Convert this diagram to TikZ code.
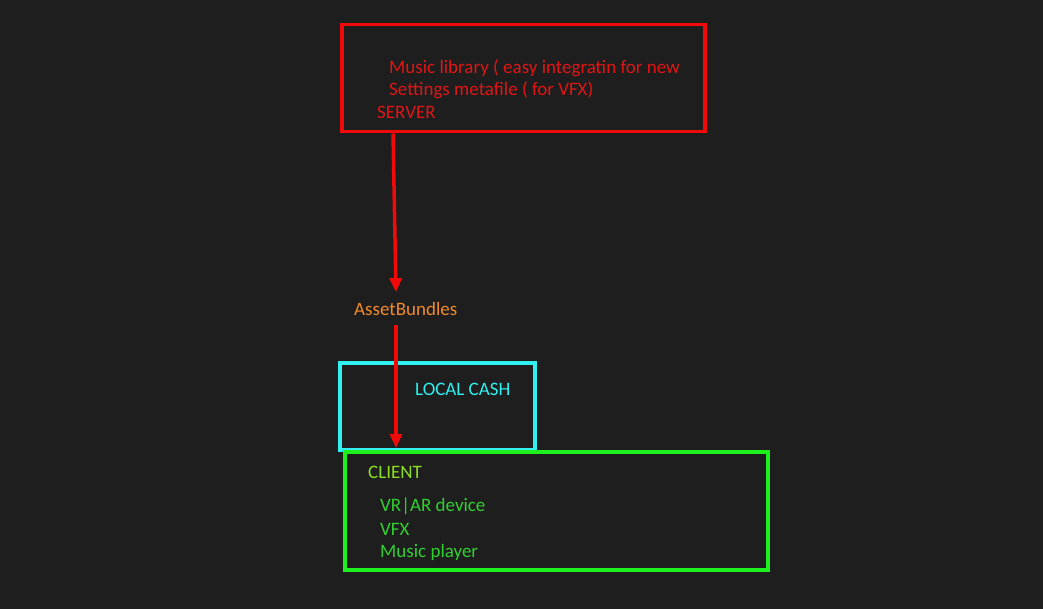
\documentclass[tikz,border=0pt]{standalone}
\usepackage{fontspec}
\setmainfont{Carlito}
\usetikzlibrary{arrows.meta,calc}
\definecolor{bg}{HTML}{1E1E1E}
\definecolor{srvred}{HTML}{F00A0A}
\definecolor{srvtext}{HTML}{E01515}
\definecolor{abor}{HTML}{F08A2A}
\definecolor{cashcy}{HTML}{30F0F0}
\definecolor{clgreen}{HTML}{1EF01E}
\definecolor{cltitle}{HTML}{8CE020}
\definecolor{cltext}{HTML}{30D030}
\tikzset{
  box/.style={draw, line width=3.5pt, minimum width=#1, inner sep=0pt, anchor=north west},
  txt/.style={anchor=west, inner sep=0pt, font=\fontsize{19}{22}\selectfont},
  arr/.style={draw=srvred, line width=3.5pt, -{Triangle[length=14pt,width=12pt]}},
}
\begin{document}
\begin{tikzpicture}[x=1pt,y=-1pt]
\fill[bg] (0,0) rectangle (1043,609);
\useasboundingbox (0,0) rectangle (1043,609);
% server
\node[box=363pt, draw=srvred, minimum height=107pt] (server) at (340,23) {};
\node[txt, text=srvtext] (s1) at (389,68) {Music library ( easy integratin for new};
\node[txt, text=srvtext] (s2) at (389,90) {Settings metafile ( for VFX)};
\node[txt, text=srvtext] (s3) at (377,112) {SERVER};
% asset bundles
\node[txt, text=abor] (ab) at (354,309) {AssetBundles};
% local cash
\node[box=195pt, draw=cashcy, minimum height=87pt] (cash) at (338,361) {};
\node[txt, text=cashcy] (lc) at (415,389) {LOCAL CASH};
% client
\node[box=423pt, draw=clgreen, minimum height=118pt] (client) at (343,450) {};
\node[txt, text=cltitle] (ct) at (368,472) {CLIENT};
\node[txt, text=cltext] (c1) at (380,506) {VR|AR device};
\node[txt, text=cltext] (c2) at (380,529) {VFX};
\node[txt, text=cltext] (c3) at (380,552) {Music player};
% arrows
\coordinate (a1s) at ($(server.south west)+(53,0)$);
\coordinate (a1e) at ($(ab.north west)+(42,-10)$);
\draw[arr] (a1s) -- (a1e);
\coordinate (a2s) at ($(ab.south west)+(42,9)$);
\coordinate (a2e) at ($(client.north west)+(53,-2)$);
\draw[arr] (a2s) -- (a2e);
\end{tikzpicture}
\end{document}
